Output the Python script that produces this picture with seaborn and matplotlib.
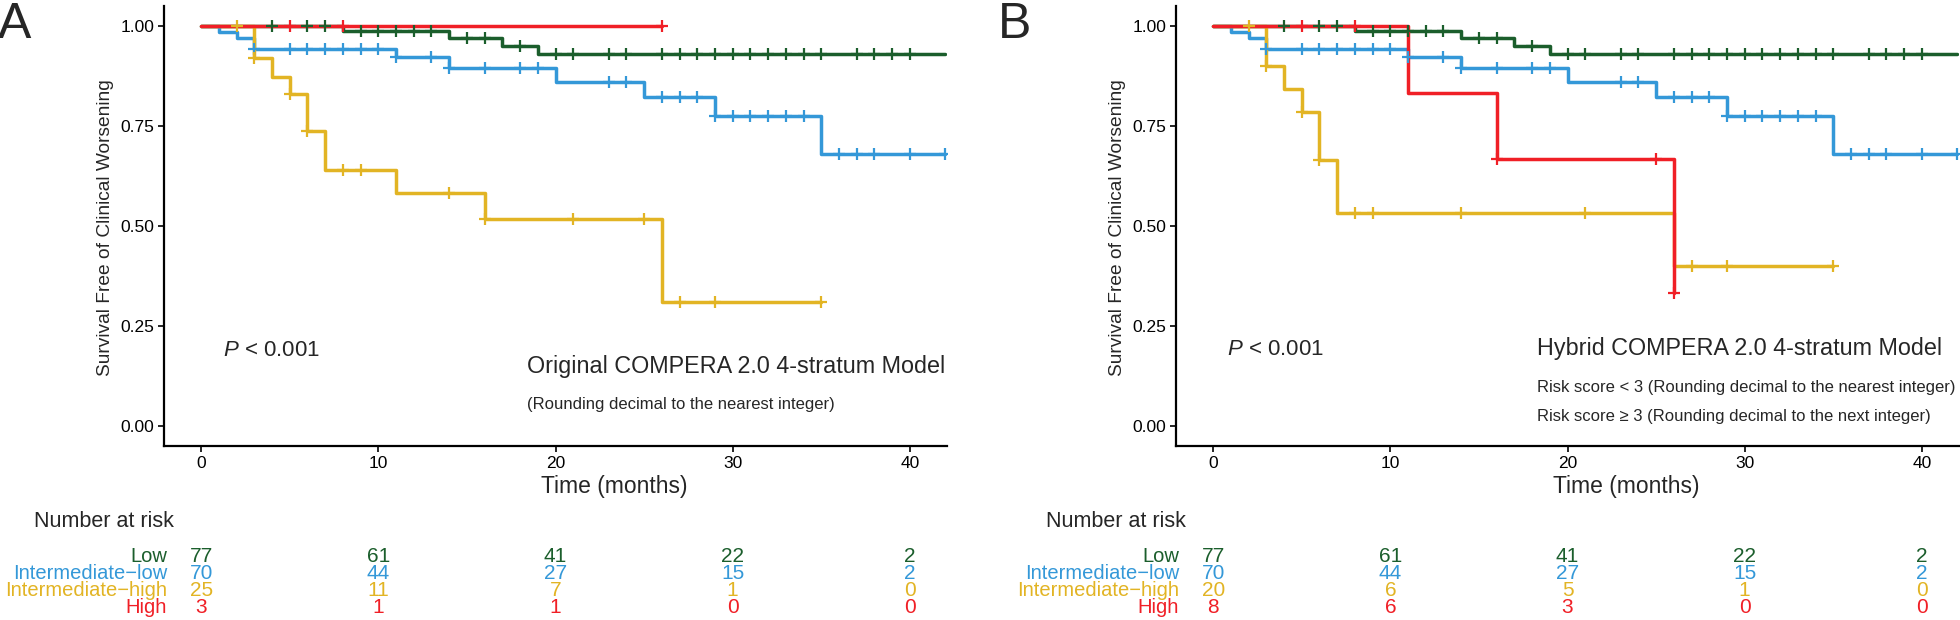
import numpy as np
import pandas as pd
import matplotlib
matplotlib.use("Agg")
import matplotlib.pyplot as plt
import matplotlib.transforms as mtransforms
import seaborn as sns

# ---- data (time in months, survival) ----
groups = ["Low", "Intermediate\u2212low", "Intermediate\u2212high", "High"]
colors = ["#1b5e2c", "#3498d8", "#e2b424", "#f01f26"]

low_t = [0, 8, 14, 17, 19, 42]
low_s = [1.0, 0.987, 0.969, 0.950, 0.929, 0.929]
low_cens = [4, 6, 7, 9, 10, 11, 12, 13, 15, 16, 18, 20, 21, 23, 24, 26, 27, 28,
            29, 30, 31, 32, 33, 34, 35, 37, 38, 39, 40]

intlow_t = [0, 1, 2, 3, 11, 14, 20, 25, 29, 35, 42]
intlow_s = [1.0, 0.986, 0.971, 0.943, 0.922, 0.894, 0.861, 0.823, 0.775, 0.679, 0.679]
intlow_cens = [3, 5, 6, 7, 8, 9, 10, 11, 13, 14, 16, 18, 19, 23, 24, 26, 27, 28,
               29, 30, 31, 32, 33, 34, 36, 37, 38, 40, 42]

# panel A (original model)
a_inthigh_t = [0, 3, 4, 5, 6, 7, 11, 16, 26, 35]
a_inthigh_s = [1.0, 0.92, 0.873, 0.83, 0.738, 0.64, 0.583, 0.517, 0.311, 0.311]
a_inthigh_cens = [2, 3, 5, 6, 8, 9, 14, 16, 21, 25, 27, 29, 35]
a_high_t = [0, 26]
a_high_s = [1.0, 1.0]
a_high_cens = [5, 8, 26]

# panel B (hybrid model)
b_inthigh_t = [0, 3, 4, 5, 6, 7, 26, 35]
b_inthigh_s = [1.0, 0.90, 0.842, 0.786, 0.665, 0.532, 0.399, 0.399]
b_inthigh_cens = [2, 3, 5, 6, 8, 9, 14, 21, 27, 29, 35]
b_high_t = [0, 11, 16, 26]
b_high_s = [1.0, 0.833, 0.667, 0.333]
b_high_cens = [5, 8, 16, 25, 26]

risk_times = [0, 10, 20, 30, 40]
a_risk = [[77, 61, 41, 22, 2], [70, 44, 27, 15, 2], [25, 11, 7, 1, 0], [3, 1, 1, 0, 0]]
b_risk = [[77, 61, 41, 22, 2], [70, 44, 27, 15, 2], [20, 6, 5, 1, 0], [8, 6, 3, 0, 0]]

panel_a = [(low_t, low_s, low_cens), (intlow_t, intlow_s, intlow_cens),
           (a_inthigh_t, a_inthigh_s, a_inthigh_cens), (a_high_t, a_high_s, a_high_cens)]
panel_b = [(low_t, low_s, low_cens), (intlow_t, intlow_s, intlow_cens),
           (b_inthigh_t, b_inthigh_s, b_inthigh_cens), (b_high_t, b_high_s, b_high_cens)]

sns.set_style("ticks")
plt.rcParams["font.family"] = ["Liberation Sans", "DejaVu Sans"]
plt.rcParams["mathtext.fontset"] = "custom"
plt.rcParams["mathtext.rm"] = "Liberation Sans"
plt.rcParams["mathtext.it"] = "Liberation Sans:italic"

W, H = 1960, 620
fig = plt.figure(figsize=(W / 100, H / 100), dpi=100)


def px(x, y):
    # figure pixel (from top-left) -> figure fraction
    return x / W, 1 - y / H


def step_value(t, s, c):
    idx = np.searchsorted(t, c, side="right") - 1
    return s[idx]


def draw_panel(left, curves, risk, letter, letter_x, offs):
    ax = fig.add_axes([left / W, 1 - 446 / H, 783 / W, 440 / H])
    for (t, s, cens), col in zip(curves, colors):
        df = pd.DataFrame({"t": t, "s": s})
        sns.lineplot(data=df, x="t", y="s", drawstyle="steps-post", color=col,
                     lw=2.5, ax=ax, estimator=None, sort=False)
        cy = [step_value(np.array(t), np.array(s), c) for c in cens]
        sns.scatterplot(x=cens, y=cy, marker="+", s=85, color=col,
                        linewidth=1.6, ax=ax, zorder=3)
    ax.set_xlim(-2.1, 42.1)
    ax.set_ylim(-0.05, 1.05)
    ax.set_xticks([0, 10, 20, 30, 40])
    ax.set_yticks([0, 0.25, 0.5, 0.75, 1.0])
    ax.set_yticklabels(["0.00", "0.25", "0.50", "0.75", "1.00"])
    ax.set_xlabel("")
    ax.set_ylabel("")
    ax.tick_params(labelsize=12.5, length=4, width=1.2, pad=3, colors="black")
    for sp in ["left", "bottom"]:
        ax.spines[sp].set_linewidth(1.6)
        ax.spines[sp].set_color("black")
    sns.despine(ax=ax)

    fig.text(*px(letter_x, 38), letter, fontsize=36, va="baseline", ha="left")
    fig.text(*px(offs - 58, 228), "Survival Free of Clinical Worsening",
             rotation=90, fontsize=13.8, ha="center", va="center")
    fig.text(*px(offs + 450, 493), "Time (months)", fontsize=16.5,
             ha="center", va="baseline")

    # number at risk table
    fig.text(*px(offs - 130, 527), "Number at risk", fontsize=15.5,
             ha="left", va="baseline")
    tr = mtransforms.blended_transform_factory(ax.transData, fig.transFigure)
    rows_y = [562.5, 579.3, 596.2, 613]
    for g, col, counts, yy in zip(groups, colors, risk, rows_y):
        fig.text(*px(offs + 3, yy), g, fontsize=14.5, color=col,
                 ha="right", va="baseline")
        for tt, n in zip(risk_times, counts):
            ax.text(tt, 1 - yy / H, str(n), transform=tr, fontsize=15,
                    color=col, ha="center", va="baseline", clip_on=False)
    return ax


ax_a = draw_panel(164, panel_a, a_risk, "A", -2, 164)
fig.text(*px(223, 356), "$P$ < 0.001", fontsize=16, va="baseline")
fig.text(*px(527, 373), "Original COMPERA 2.0 4-stratum Model", fontsize=16.8,
         va="baseline")
fig.text(*px(527, 409), "(Rounding decimal to the nearest integer)",
         fontsize=12, va="baseline")

ax_b = draw_panel(1176, panel_b, b_risk, "B", 998, 1176)
fig.text(*px(1227, 355), "$P$ < 0.001", fontsize=16, va="baseline")
fig.text(*px(1537, 355), "Hybrid COMPERA 2.0 4-stratum Model", fontsize=16.8,
         va="baseline")
fig.text(*px(1537, 391.7), "Risk score < 3 (Rounding decimal to the nearest integer)",
         fontsize=12, va="baseline")
fig.text(*px(1537, 420.7), "Risk score \u2265 3 (Rounding decimal to the next integer)",
         fontsize=12, va="baseline")

fig.savefig("out.png", dpi=100)
